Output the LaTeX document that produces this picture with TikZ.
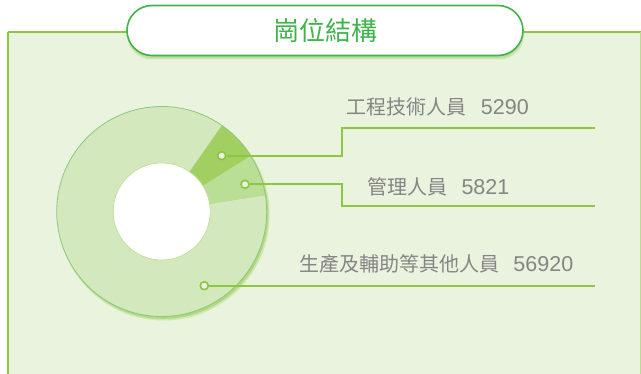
\documentclass[tikz,border=0pt]{standalone}
\usepackage{fontspec}
\usetikzlibrary{calc}
\newfontfamily\cjk{Noto Sans CJK TC}
\newfontfamily\numfont{Liberation Sans}
\newcommand{\numtxt}[1]{\hspace{14pt}{\numfont\fontsize{21.5}{21.5}\selectfont #1}}
\definecolor{panelbg}{HTML}{E9F3DE}
\definecolor{leadgreen}{HTML}{8DC63F}
\definecolor{pillgreen}{HTML}{3DB54A}
\definecolor{segbig}{HTML}{D4E8BE}
\definecolor{segeng}{HTML}{A2CF62}
\definecolor{segmgt}{HTML}{B9DE95}
\definecolor{ringline}{HTML}{8CC97A}
\definecolor{labelgray}{HTML}{858585}
\definecolor{shadowgreen}{HTML}{9DCE5E}
\tikzset{
  leader/.style={draw=leadgreen, line width=2pt},
  dotmark/.style={circle, draw=leadgreen, fill=segbig!50!white, line width=1.6pt, inner sep=0pt, minimum size=8pt},
  lbl/.style={anchor=west, inner sep=0pt, text=labelgray, font=\cjk\fontsize{20}{20}\selectfont},
}
\begin{document}
\begin{tikzpicture}[x=1pt,y=-1pt]
\useasboundingbox (0,0) rectangle (641,374);
% panel
\fill[panelbg] (8,32) rectangle (641,374);
\draw[leadgreen, line width=1.3pt] (8,32) -- (641,32);
\draw[leadgreen, line width=2pt] (8,32) -- (8,374);
\draw[leadgreen!60, line width=1pt] (640,32) -- (640,374);
% title pill
\fill[shadowgreen, opacity=0.35, rounded corners=25pt] (127,9) rectangle (524,59.5);
\fill[shadowgreen, opacity=0.35, rounded corners=25pt] (128,8) rectangle (523,58);
\node[draw=pillgreen, fill=white, line width=1.6pt, rounded corners=25pt, minimum width=396pt, minimum height=50pt, inner sep=0pt, text=pillgreen, font=\cjk\fontsize{26}{26}\selectfont] (title) at (325,30.5) {崗位結構};
% donut shadow
\fill[shadowgreen, opacity=0.35] (163.7,214.5) circle[radius=106];
\fill[shadowgreen, opacity=0.6] (163.2,213.8) circle[radius=105];
% donut
\coordinate (c) at (161.7,211.5);
\fill[segbig] ($(c)+(-55:105)$) arc[start angle=-55, end angle=-369, radius=105] -- ($(c)+(-369:48.5)$) arc[start angle=-369, end angle=-55, radius=48.5] -- cycle;
\fill[segeng] ($(c)+(-55:105)$) arc[start angle=-55, end angle=-32, radius=105] -- ($(c)+(-32:48.5)$) arc[start angle=-32, end angle=-55, radius=48.5] -- cycle;
\fill[segmgt] ($(c)+(-32:105)$) arc[start angle=-32, end angle=-9, radius=105] -- ($(c)+(-9:48.5)$) arc[start angle=-9, end angle=-32, radius=48.5] -- cycle;
\draw[ringline, line width=0.8pt] (c) circle[radius=105];
\fill[white] (c) circle[radius=48.5];
\draw[segeng!70, line width=0.6pt] (c) circle[radius=48.5];
% dots
\node[dotmark] (d1) at (221.7,155.7) {};
\node[dotmark] (d2) at (245,184.3) {};
\node[dotmark] (d3) at (204.3,285.7) {};
\coordinate (e1) at (595,127.7);
\coordinate (e2) at (595,205.7);
\coordinate (e3) at (595,285.7);
\draw[leader] (d1) -- (341.7,155.7) -- (341.7,127.7) -- (e1);
\draw[leader] (d2) -- (341.7,184.3) -- (341.7,205.7) -- (e2);
\draw[leader] (d3) -- (e3);
% labels
\node[lbl] (t1) at (346.7,106.5) {工程技術人員\numtxt{5290}};
\node[lbl] (t2) at (367.3,186.5) {管理人員\numtxt{5821}};
\node[lbl] (t3) at (299.3,264.3) {生產及輔助等其他人員\numtxt{56920}};
\end{tikzpicture}
\end{document}
